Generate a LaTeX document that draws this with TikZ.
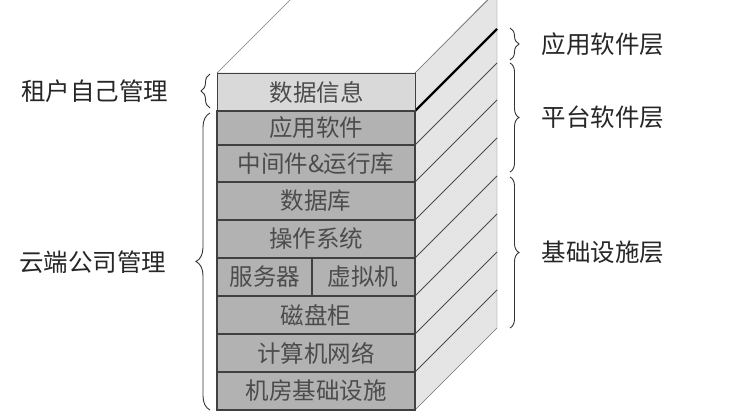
\documentclass[tikz,border=0pt]{standalone}
\usepackage{fontspec}
\setmainfont{Noto Sans CJK SC}
\usetikzlibrary{decorations.pathreplacing}
\begin{document}
\begin{tikzpicture}[x=1pt,y=-1pt,
  lay/.style={draw=black!75,line width=1.2pt,fill=black!30},
  txt/.style={font=\fontsize{23.5}{24}\selectfont,text=black!70},
  lbl/.style={font=\fontsize{24.5}{25}\selectfont,text=black!85},
  br/.style={decorate,decoration={brace,amplitude=9pt},draw=black!80,line width=0.9pt}]
\useasboundingbox (0,0) rectangle (744,418);
\begin{scope}
\clip (0,0) rectangle (744,418);
% top face and side face
\fill[white,draw=black!50] (217,73) -- (300,-10) -- (497,-10) -- (415,73) -- cycle;
\fill[black!10,draw=black!55] (415,73) -- (497,-9) -- (497,328) -- (415,410) -- cycle;
\foreach \y in {145,182,220,258,296,334,372}
  \draw[black!70,line width=0.8pt] (415,\y) -- (497,\y-82);
\draw[black,line width=2.2pt] (415,111) -- (497,29);
\end{scope}
% front layers
\node[lay,fill=black!15,minimum width=198pt,minimum height=38pt,anchor=north west,inner sep=0] (l1) at (217,73) {};
\node[txt] (t1) at (l1) {数据信息};
\foreach \n/\a/\b/\t in {l2/111/145/应用软件,l3/145/182/中间件\&运行库,l4/182/220/数据库,l5/220/258/操作系统,l7/296/334/磁盘柜,l8/334/372/计算机网络,l9/372/410/机房基础设施}{
  \draw[lay] (217,\a) rectangle (415,\b);
  \node[txt] (\n) at (316,{(\a+\b)/2}) {\t};
}
\draw[lay] (217,258) rectangle (415,296);
\draw[lay] (312,258) -- (312,296);
\node[txt] (l6a) at (265,277) {服务器};
\node[txt] (l6b) at (363,277) {虚拟机};
% left braces
\coordinate (lb1s) at (210,108); \coordinate (lb1e) at (210,74);
\draw[br] (lb1s) -- (lb1e);
\node[lbl,anchor=east] (c1) at (172,91) {租户自己管理};
\coordinate (lb2s) at (210,410); \coordinate (lb2e) at (210,113);
\draw[br,decoration={amplitude=14pt}] (lb2s) -- (lb2e);
\node[lbl,anchor=east] (c2) at (170,262) {云端公司管理};
% right braces
\coordinate (r1s) at (510,28); \coordinate (r1e) at (510,60);
\draw[br] (r1s) -- (r1e);
\node[lbl,anchor=west] (a1) at (538,44) {应用软件层};
\coordinate (r2s) at (510,63); \coordinate (r2e) at (510,172);
\draw[br] (r2s) -- (r2e);
\node[lbl,anchor=west] (a2) at (538,117) {平台软件层};
\coordinate (r3s) at (510,177); \coordinate (r3e) at (510,328);
\draw[br] (r3s) -- (r3e);
\node[lbl,anchor=west] (a3) at (538,252) {基础设施层};
\end{tikzpicture}
\end{document}
